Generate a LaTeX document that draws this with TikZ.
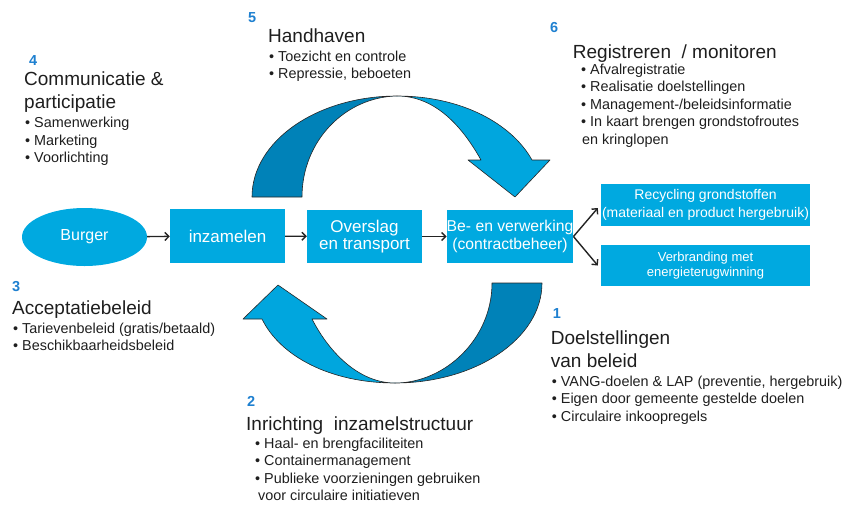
\documentclass[tikz,border=0pt]{standalone}
\usepackage{fontspec}
\setmainfont{Liberation Sans}
\usetikzlibrary{arrows.meta,shapes.geometric}
\definecolor{boxblue}{RGB}{0,169,224}
\definecolor{arrlight}{RGB}{0,166,222}
\definecolor{arrdark}{RGB}{0,130,184}
\definecolor{numblue}{RGB}{30,128,208}
\definecolor{txt}{RGB}{30,30,30}
\definecolor{flowline}{RGB}{35,35,35}
\begin{document}
\begin{tikzpicture}[x=1pt,y=-1pt,
  num/.style={anchor=base west,inner sep=0,font=\bfseries\fontsize{14.5}{17}\selectfont,text=numblue},
  ttl/.style={anchor=base west,inner sep=0,font=\fontsize{19}{23}\selectfont,text=txt},
  bul/.style={anchor=base west,inner sep=0,font=\fontsize{14.4}{17.5}\selectfont,text=txt},
  box/.style={rectangle,fill=boxblue,inner sep=0,text=white,align=center},
  flow/.style={draw=flowline,line width=1.4pt,-{Straight Barb[length=4pt,width=8pt]}},
  band/.style={draw=black!85,line width=0.6pt,line join=round}]
\useasboundingbox (0,0) rectangle (848,504);

% curved arrows
\filldraw[band,fill=arrdark] (252,197) .. controls (252,141) and (317,96) .. (397,96)
  .. controls (345,97) and (302,141) .. (302,197) -- cycle;
\filldraw[band,fill=arrlight] (397,96) .. controls (462,96) and (512,124) .. (532,160)
  -- (550,160) -- (515,197) -- (468,160) -- (481,160)
  .. controls (462,126) and (435,96) .. (397,96) -- cycle;
\filldraw[band,fill=arrdark] (542,283) .. controls (542,339) and (475,383) .. (395,383)
  .. controls (445,383) and (492,339) .. (492,283) -- cycle;
\filldraw[band,fill=arrlight] (395,383) .. controls (330,383) and (280,356) .. (262,319)
  -- (243,319) -- (278,285) -- (327,319) -- (312,319)
  .. controls (330,354) and (360,383) .. (395,383) -- cycle;

% flow nodes
\node[box,ellipse,minimum width=125pt,minimum height=58pt,font=\fontsize{16}{17}\selectfont] (burger) at (84.5,237) {Burger};
\node[box,minimum width=115pt,minimum height=54pt,font=\fontsize{17}{18}\selectfont] (inz) at (227.5,236) {inzamelen};
\node[box,minimum width=115pt,minimum height=53pt,font=\fontsize{17}{17.7}\selectfont] (ovs) at (364.5,236.5) {Overslag\\en transport};
\node[box,minimum width=126pt,minimum height=53pt,font=\fontsize{15.7}{18.3}\selectfont] (bev) at (510,236.5) {Be- en verwerking\\(contractbeheer)};
\node[box,minimum width=209pt,minimum height=42pt,font=\fontsize{14}{17.5}\selectfont] (rec) at (705.5,205) {Recycling grondstoffen\\(materiaal en product hergebruik)};
\node[box,minimum width=209pt,minimum height=41pt,font=\fontsize{13}{15}\selectfont] (ver) at (705.5,265.5) {Verbranding met\\energieterugwinning};

\draw[flow] (burger) -- (inz);
\draw[flow] (inz) -- (ovs);
\draw[flow] (ovs) -- (bev);
\draw[flow] (bev.east) -- ([xshift=-3pt,yshift=-3pt]rec.west);
\draw[flow] (bev.east) -- ([xshift=-3pt]ver.west);

% block 4
\node[num] (n4) at (29,65.7) {4};
\node[ttl] (t4) at (24,85) {\begin{tabular}[t]{@{}l@{}}Communicatie \&\\participatie\end{tabular}};
\node[bul] (b4) at (25,127.7) {\begin{tabular}[t]{@{}l@{}}• Samenwerking\\• Marketing\\• Voorlichting\end{tabular}};

% block 5
\node[num] (n5) at (248,22.7) {5};
\node[ttl] (t5) at (268,42.7) {Handhaven};
\node[bul] (b5) at (269,61) {\begin{tabular}[t]{@{}l@{}}• Toezicht en controle\\• Repressie, beboeten\end{tabular}};

% block 6
\node[num] (n6) at (550,32.7) {6};
\node[ttl] (t6) at (572.7,58.3) {Registreren\ \ / monitoren};
\node[bul] (b6) at (581,74) {\begin{tabular}[t]{@{}l@{}}• Afvalregistratie\\• Realisatie doelstellingen\\• Management-/beleidsinformatie\\• In kaart brengen grondstofroutes\\\hspace{1pt}en kringlopen\end{tabular}};

% block 3
\node[num] (n3) at (12,291.7) {3};
\node[ttl] (t3) at (12,314.3) {Acceptatiebeleid};
\node[bul] (b3) at (13,333.3) {\begin{tabular}[t]{@{}l@{}}• Tarievenbeleid (gratis/betaald)\\• Beschikbaarheidsbeleid\end{tabular}};

% block 2
\node[num] (n2) at (247,406) {2};
\node[ttl] (t2) at (246,430) {Inrichting\ \ inzamelstructuur};
\node[bul] (b2) at (255,448.3) {\begin{tabular}[t]{@{}l@{}}• Haal- en brengfaciliteiten\\• Containermanagement\\• Publieke voorzieningen gebruiken\\\hspace{3pt}voor circulaire initiatieven\end{tabular}};

% block 1
\node[num] (n1) at (552.7,318) {1};
\node[ttl] (t1) at (550.7,344) {\begin{tabular}[t]{@{}l@{}}Doelstellingen\\van beleid\end{tabular}};
\node[bul] (b1) at (551.7,386) {\begin{tabular}[t]{@{}l@{}}• VANG-doelen \& LAP (preventie, hergebruik)\\• Eigen door gemeente gestelde doelen\\• Circulaire inkoopregels\end{tabular}};
\end{tikzpicture}
\end{document}
